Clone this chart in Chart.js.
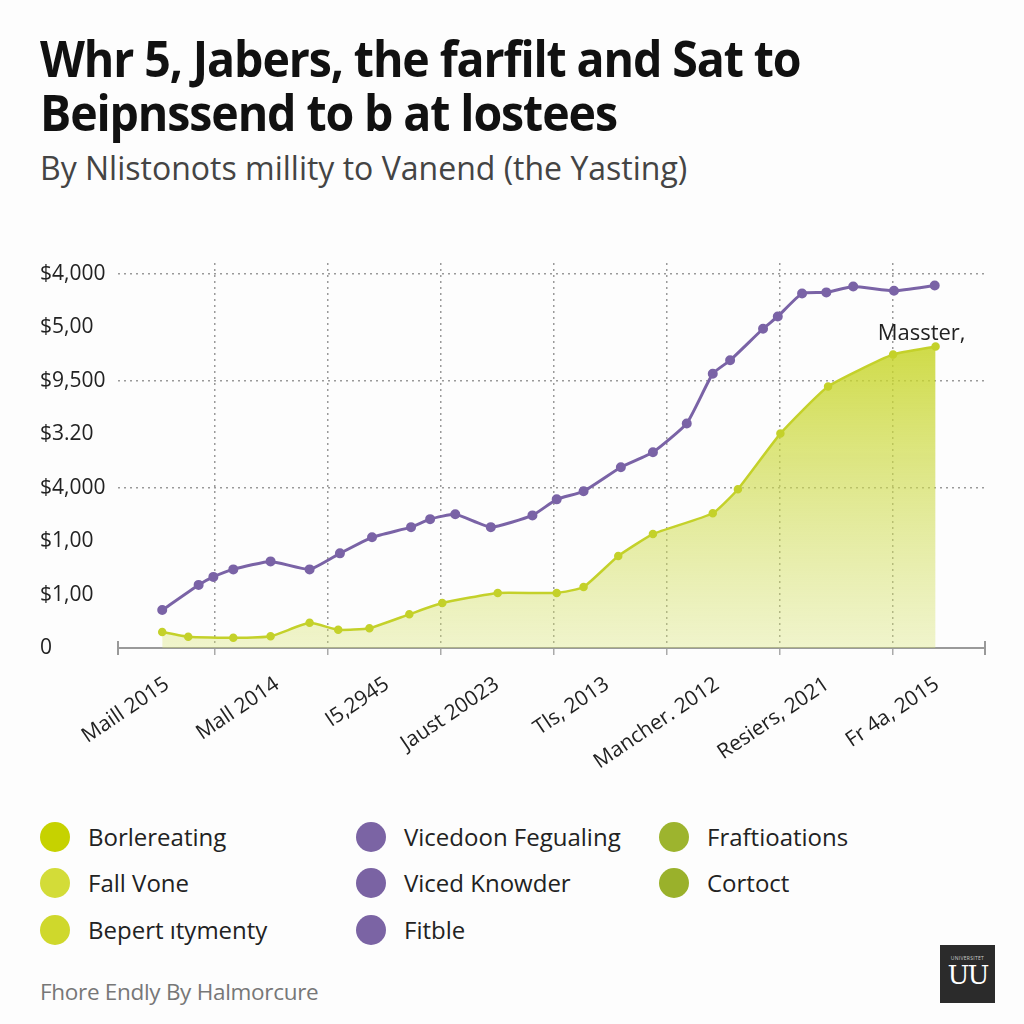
<!DOCTYPE html>
<html>
<head>
<meta charset="utf-8">
<script src="https://cdn.jsdelivr.net/npm/chart.js@4.4.1/dist/chart.umd.min.js"></script>
<style>
    body { margin: 0; background: #fdfdfd; font-family: "Open Sans", sans-serif; color: #111; }
    .page { position: relative; width: 1024px; height: 1024px; overflow: hidden; }
    .title { position: absolute; left: 40px; top: 31px; font-weight: 700; font-size: 50px; line-height: 54px; letter-spacing: -1.2px; white-space: nowrap; transform: scaleX(0.93); transform-origin: left top; }
    .subtitle { position: absolute; left: 40px; top: 146px; font-size: 32px; color: #444; white-space: nowrap; }
    #chartRef { position: absolute; left: 0; top: 230px; }
    .legend-item { position: absolute; display: flex; align-items: center; font-size: 24px; color: #222; white-space: nowrap; }
    .legend-item span.dot { width: 30px; height: 30px; border-radius: 50%; margin-right: 18px; }
    .footer { position: absolute; left: 40px; top: 976px; font-size: 22.5px; color: #777; letter-spacing: -0.3px; }
    .logo { position: absolute; left: 940px; top: 945px; width: 55px; height: 58px; background: #2b2b2b; color: #fff; text-align: center; }
    .logo .small { font-size: 5px; margin-top: 10px; letter-spacing: 0.3px; color: #ccc; }
    .logo .big { font-family: "DejaVu Serif", "Liberation Serif", serif; font-size: 26px; line-height: 28px; letter-spacing: -2px; }
</style>
</head>
<body>
<div class="page">
    <div class="title">Whr 5, Jabers, the farfilt and Sat to<br>Beipnssend to b at lostees</div>
    <div class="subtitle">By Nlistonots millity to Vanend (the Yasting)</div>
    <canvas id="chartRef" width="1024" height="560"></canvas>
    <div id="legendRef"></div>
    <div class="footer">Fhore Endly By Halmorcure</div>
    <div class="logo"><div class="small">UNIVERSITET</div><div class="big">UU</div></div>
</div>
<script>
const xLabels = ["Maill 2015", "Mall 2014", "I5,2945", "Jaust 20023", "Tls, 2013", "Mancher. 2012", "Resiers, 2021", "Fr 4a, 2015"];
const yTickLabels = ["0", "$1,00", "$1,00", "$4,000", "$3.20", "$9,500", "$5,00", "$4,000"];

// purple series (x = position along the timeline, 0-100)
const purpleX = [5.1, 9.3, 11.0, 13.3, 17.6, 22.1, 25.6, 29.3, 33.8, 36.0, 38.9, 43.0, 47.8, 50.6, 53.7, 58.0, 61.7, 65.6, 68.6, 70.6, 74.4, 76.1, 78.9, 81.7, 84.8, 89.5, 94.2];
const purpleY = [0.71, 1.18, 1.33, 1.47, 1.62, 1.47, 1.77, 2.07, 2.26, 2.41, 2.50, 2.26, 2.48, 2.78, 2.93, 3.38, 3.66, 4.20, 5.13, 5.38, 5.97, 6.20, 6.63, 6.65, 6.76, 6.68, 6.78];

// green area series
const greenX = [5.1, 8.1, 13.3, 17.6, 22.1, 25.4, 29.0, 33.6, 37.4, 43.8, 50.6, 53.7, 57.7, 61.7, 68.6, 71.5, 76.4, 81.9, 89.4, 94.3];
const greenY = [0.30, 0.21, 0.19, 0.22, 0.47, 0.34, 0.37, 0.63, 0.84, 1.03, 1.03, 1.14, 1.72, 2.13, 2.52, 2.97, 4.01, 4.89, 5.49, 5.64];

const legendNames = [["Borlereating", "Fall Vone", "Bepert ıtymenty"], ["Vicedoon Fegualing", "Viced Knowder", "Fitble"], ["Fraftioations", "Cortoct"]];
const legendColors = [["#c6d200", "#d3dc38", "#cfd82c"], ["#7b64a4", "#7a63a3", "#7b64a4"], ["#9db42e", "#9ab12b"]];
const annotationText = "Masster,";

document.addEventListener("DOMContentLoaded", () => {
    const chartRef = document.getElementById("chartRef");
    const legendRef = document.getElementById("legendRef");

    // legend (html)
    const colLeft = [40, 356, 659];
    const rowTop = [837, 883, 930];
    legendNames.forEach((col, c) => {
        col.forEach((name, r) => {
            const item = document.createElement("div");
            item.className = "legend-item";
            item.style.left = colLeft[c] + "px";
            item.style.top = (rowTop[r] - 17) + "px";
            item.innerHTML = `<span class="dot" style="background:${legendColors[c][r]}"></span>${name}`;
            legendRef.appendChild(item);
        });
    });

    const endLabel = {
        id: "endLabel",
        afterDatasetsDraw(chart) {
            const { ctx, chartArea } = chart;
            const meta = chart.getDatasetMeta(1);
            const last = meta.data[meta.data.length - 1];
            ctx.save();
            ctx.font = "22px 'Open Sans'";
            ctx.fillStyle = "#222";
            ctx.textAlign = "center";
            ctx.textBaseline = "bottom";
            ctx.fillText(annotationText, last.x - 14, last.y - 2);
            // end caps of the x axis line
            const yb = chartArea.bottom;
            ctx.strokeStyle = "#999";
            ctx.lineWidth = 2;
            ctx.beginPath();
            ctx.moveTo(chartArea.left, yb - 7);
            ctx.lineTo(chartArea.left, yb + 7);
            ctx.moveTo(chartArea.right, yb - 7);
            ctx.lineTo(chartArea.right, yb + 7);
            ctx.stroke();
            ctx.restore();
        },
    };

    const greenFill = (context) => {
        const { ctx, chartArea } = context.chart;
        if (!chartArea) return "rgba(200,214,40,0.5)";
        const g = ctx.createLinearGradient(0, chartArea.top + 80, 0, chartArea.bottom);
        g.addColorStop(0, "rgba(198,212,38,0.85)");
        g.addColorStop(1, "rgba(214,226,110,0.35)");
        return g;
    };

    chartRef.chart = new Chart(chartRef.getContext("2d"), {
        type: "line",
        data: {
            datasets: [
                {
                    label: "purple",
                    data: purpleX.map((x, i) => ({ x, y: purpleY[i] })),
                    borderColor: "#7a63a6",
                    backgroundColor: "#7a63a6",
                    borderWidth: 3,
                    pointRadius: 3.5,
                    tension: 0.15,
                    fill: false,
                    xAxisID: "x",
                },
                {
                    label: "green",
                    data: greenX.map((x, i) => ({ x, y: greenY[i] })),
                    borderColor: "#c4d12a",
                    pointBackgroundColor: "#c4d12a",
                    backgroundColor: greenFill,
                    borderWidth: 2.5,
                    pointRadius: 3,
                    tension: 0.15,
                    fill: "origin",
                    xAxisID: "x",
                },
            ],
        },
        options: {
            responsive: false,
            animation: false,
            layout: { padding: { left: 40, right: 39, top: 33, bottom: 0 } },
            plugins: { legend: { display: false }, tooltip: { enabled: false } },
            scales: {
                x: {
                    type: "linear",
                    position: "bottom",
                    min: 0,
                    max: 100,
                    afterBuildTicks: (axis) => {
                        axis.ticks = [0, 1, 2, 3, 4, 5, 6].map((i) => ({ value: 11.2 + i * 13.03 }));
                    },
                    afterFit: (axis) => { axis.height = 0; },
                    ticks: { display: false },
                    grid: { color: "#9a9a9a", lineWidth: 1.5, drawTicks: true, tickLength: 7, tickColor: "#aaa" },
                    border: { display: true, color: "#9a9a9a", width: 2, dash: [2, 4] },
                },
                xLabels: {
                    type: "linear",
                    position: "bottom",
                    min: 0,
                    max: 100,
                    afterBuildTicks: (axis) => {
                        axis.ticks = xLabels.map((_, i) => ({ value: 5.65 + i * 12.69 }));
                    },
                    afterFit: (axis) => { axis.height = 142; },
                    grid: { display: false },
                    border: { display: false },
                    ticks: {
                        autoSkip: false,
                        minRotation: 34,
                        maxRotation: 34,
                        padding: 16,
                        color: "#222",
                        font: { family: "Open Sans", size: 21 },
                        callback: (value, index) => xLabels[index],
                    },
                },
                y: {
                    type: "linear",
                    min: 0,
                    max: 7.2,
                    afterFit: (axis) => { axis.width = 78; },
                    ticks: {
                        stepSize: 1,
                        includeBounds: false,
                        crossAlign: "far",
                        color: "#222",
                        font: { family: "Open Sans", size: 21 },
                        callback: (value) => yTickLabels[value],
                    },
                    grid: {
                        drawTicks: false,
                        lineWidth: 1.5,
                        color: (ctx) => ([3, 5, 7].includes(ctx.tick.value) ? "#9a9a9a" : "transparent"),
                    },
                    border: { display: false, dash: [2, 4] },
                },
            },
        },
        plugins: [endLabel],
    });
});
</script>
</body>
</html>
